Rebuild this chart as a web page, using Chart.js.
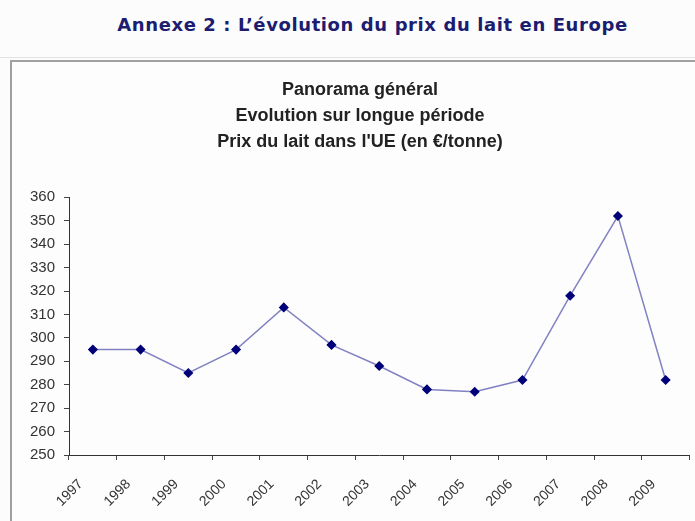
<!DOCTYPE html>
<html>
<head>
<meta charset="utf-8">
<script src="https://cdn.jsdelivr.net/npm/chart.js@4"></script>
<style>
  html, body { margin: 0; padding: 0; background: #fbfcfb; }
  body { width: 695px; height: 521px; position: relative; overflow: hidden; }
  #header {
    position: absolute; left: 0; top: 14px; width: 745px; text-align: center;
    font: bold 18px "DejaVu Sans", Verdana, sans-serif; letter-spacing: 0.6px; color: #1c1c70;
  }
  #sep { position: absolute; left: 0; top: 57px; width: 695px; height: 1px; background: #e2e2e2; }
  #box {
    position: absolute; left: 10px; top: 60px; width: 700px; height: 500px;
    border-left: 2px solid #a0a0a0; border-top: 2px solid #a0a0a0; background: #fcfdfc;
  }
  #wrap { position: absolute; left: 0; top: 0; width: 695px; height: 521px; }
</style>
</head>
<body>
<div id="header">Annexe 2 : L’évolution du prix du lait en Europe</div>
<div id="sep"></div>
<div id="box"></div>
<div id="wrap"><canvas id="graph1" width="695" height="521"></canvas></div>
<script>
const years = ["1997", "1998", "1999", "2000", "2001", "2002", "2003", "2004", "2005", "2006", "2007", "2008", "2009"];
const milkPrice = [295, 295, 285, 295, 313, 297, 288, 278, 277, 282, 318, 352, 282];
const titleLines = ["Panorama général", "Evolution sur longue période", "Prix du lait dans l'UE (en €/tonne)"];

const graph1 = new Chart(document.getElementById("graph1").getContext("2d"), {
  type: "line",
  data: {
    labels: years,
    datasets: [
      {
        label: "Prix du lait",
        data: milkPrice,
        borderColor: "rgb(130, 130, 195)",
        borderWidth: 1.5,
        backgroundColor: "rgb(0, 0, 120)",
        pointBackgroundColor: "rgb(0, 0, 120)",
        pointBorderColor: "rgb(0, 0, 120)",
        pointStyle: 'rectRot',
        radius: 4,
        fill: false,
        tension: 0,
      },
    ],
  },
  options: {
    responsive: false,
    animation: false,
    layout: { padding: { left: 27, right: 2, top: 0, bottom: 0 } },
    plugins: {
      legend: { display: false },
      tooltip: { enabled: false },
      title: {
        display: true,
        text: titleLines,
        color: "#222",
        font: { family: "'Liberation Sans', Arial, sans-serif", size: 18, weight: 'bold', lineHeight: 1.45 },
        padding: { top: 77, bottom: 42 },
      },
    },
    scales: {
      x: {
        offset: true,
        afterFit: (s) => { s.height = 66; },
        ticks: {
          color: "#333",
          font: { family: "'Liberation Sans', Arial, sans-serif", size: 14 },
          minRotation: 45,
          maxRotation: 45,
          labelOffset: -12,
          padding: 16,
        },
        grid: {
          offset: true,
          drawOnChartArea: false,
          tickLength: 5,
          color: "#444",
        },
        border: { color: "#333", width: 1 },
      },
      y: {
        min: 250,
        max: 360,
        afterFit: (s) => { s.width = 42; },
        ticks: {
          stepSize: 10,
          color: "#333",
          font: { family: "'Liberation Sans', Arial, sans-serif", size: 15 },
          padding: 9,
        },
        grid: {
          drawOnChartArea: false,
          tickLength: 5,
          color: "#444",
        },
        border: { color: "#333", width: 1 },
      },
    },
  }
});
</script>
</body>
</html>
